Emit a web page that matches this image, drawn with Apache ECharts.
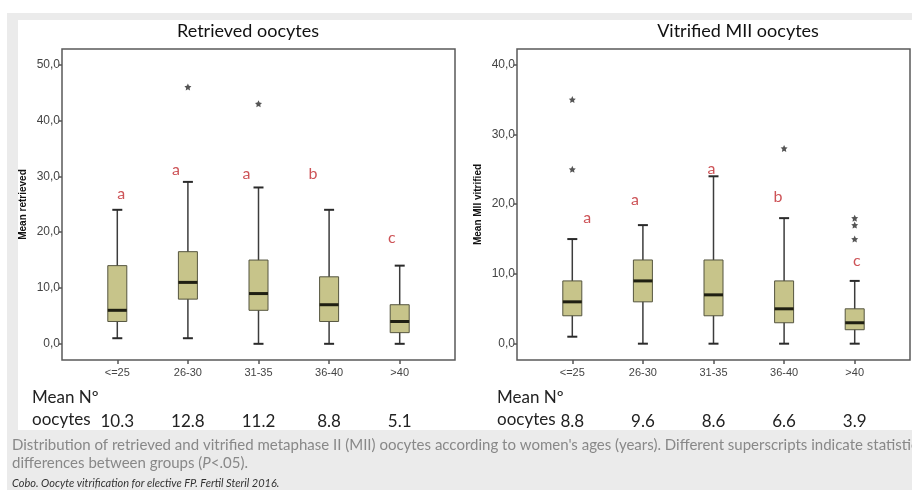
<!DOCTYPE html>
<html>
<head>
<meta charset="utf-8">
<script src="https://cdn.jsdelivr.net/npm/echarts@6/dist/echarts.min.js"></script>
<style>
  html, body { margin: 0; padding: 0; background: #fff; }
  #main { width: 912px; height: 490px; }
</style>
</head>
<body>
<div id="main"></div>
<script>
// age groups (x categories)
var ageGroups = ['<=25', '26-30', '31-35', '36-40', '>40'];

// retrieved oocytes: [min, Q1, median, Q3, max]
var retrievedBoxes = [
  [1, 4, 6, 14, 24],
  [1, 8, 11, 16.5, 29],
  [0, 6, 9, 15, 28],
  [0, 4, 7, 12, 24],
  [0, 2, 4, 7, 14]
];
var retrievedOutliers = [[1, 46], [2, 43]];
var retrievedLetters = ['a', 'a', 'a', 'b', 'c'];
var retrievedLetterY = [26.9, 31.2, 30.5, 30.5, 19.0];
var retrievedMeans = ['10.3', '12.8', '11.2', '8.8', '5.1'];

// vitrified MII oocytes
var vitrifiedBoxes = [
  [1, 4, 6, 9, 15],
  [0, 6, 9, 12, 17],
  [0, 4, 7, 12, 24],
  [0, 3, 5, 9, 18],
  [0, 2, 3, 5, 9]
];
var vitrifiedOutliers = [[0, 35], [0, 25], [3, 28], [4, 18], [4, 17], [4, 15]];
var vitrifiedLetters = ['a', 'a', 'a', 'b', 'c'];
var vitrifiedLetterY = [18.1, 20.6, 25.0, 21.1, 11.9];
var vitrifiedMeans = ['8.8', '9.6', '8.6', '6.6', '3.9'];

var yTicksLeft = [0, 10, 20, 30, 40, 50];
var yTicksRight = [0, 10, 20, 30, 40];

var chart = echarts.init(document.getElementById('main'));

var textFont = 'Lato, "Open Sans", sans-serif';
var axisFont = '"Liberation Sans", Arial, sans-serif';
var starPath = 'path://M0,-10 L2.9,-4 9.5,-3.1 4.7,1.5 5.9,8.1 0,5 -5.9,8.1 -4.7,1.5 -9.5,-3.1 -2.9,-4 Z';

function fmtComma(v) {
  return v.toFixed(1).replace('.', ',');
}

function renderBox(params, api) {
  var x = api.value(0);
  var pMin = api.coord([x, api.value(1)]);
  var pQ1 = api.coord([x, api.value(2)]);
  var pMed = api.coord([x, api.value(3)]);
  var pQ3 = api.coord([x, api.value(4)]);
  var pMax = api.coord([x, api.value(5)]);
  var cx = pMin[0];
  var bw = 19, cw = 10;
  var lineStyle = { stroke: '#3c3c3c', lineWidth: 1.5 };
  return {
    type: 'group',
    children: [
      { type: 'line', shape: { x1: cx, y1: pMax[1], x2: cx, y2: pMin[1] }, style: lineStyle },
      { type: 'line', shape: { x1: cx - cw / 2, y1: pMax[1], x2: cx + cw / 2, y2: pMax[1] }, style: { stroke: '#2a2a2a', lineWidth: 2 } },
      { type: 'line', shape: { x1: cx - cw / 2, y1: pMin[1], x2: cx + cw / 2, y2: pMin[1] }, style: { stroke: '#2a2a2a', lineWidth: 2 } },
      { type: 'rect', shape: { x: cx - bw / 2, y: pQ3[1], width: bw, height: pQ1[1] - pQ3[1] },
        style: { fill: '#c7c48a', stroke: '#55553f', lineWidth: 1 } },
      { type: 'line', shape: { x1: cx - bw / 2, y1: pMed[1], x2: cx + bw / 2, y2: pMed[1] }, style: { stroke: '#1f1f12', lineWidth: 3 } }
    ]
  };
}

function boxData(boxes) {
  return boxes.map(function (b, i) { return [i].concat(b); });
}

function letterData(ys) {
  return ys.map(function (y, i) { return [i, y]; });
}

// panel layout
var panels = [
  { frameLeft: 62, dataLeft: 82, yMin: -2.9, yMax: 52.8, ticks: yTicksLeft, name: 'Mean retrieved',
    letterShift: [4, -12, -12, -16, -8] },
  { frameLeft: 517, dataLeft: 537, yMin: -2.34, yMax: 42.25, ticks: yTicksRight, name: 'Mean MII vitrified',
    letterShift: [15, -8, -2, -6, 2] }
];
var gridTop = 49, gridHeight = 311;

var grids = [], xAxes = [], yAxes = [];
panels.forEach(function (p, k) {
  // data grid (index 2k) and frame grid (index 2k+1)
  grids.push({ left: p.dataLeft, top: gridTop, width: 353, height: gridHeight, containLabel: false });
  grids.push({ left: p.frameLeft, top: gridTop, width: 393, height: gridHeight, show: true,
    borderColor: '#5a5a5a', borderWidth: 1.5, backgroundColor: 'transparent' });

  xAxes.push({
    type: 'category', gridIndex: 2 * k, data: ageGroups, position: 'bottom',
    axisLine: { show: false, onZero: false },
    axisTick: { show: true, alignWithLabel: true, length: 4, lineStyle: { color: '#555', width: 1.5 } },
    axisLabel: { fontSize: 11, color: '#444', fontFamily: axisFont, margin: 7 },
    splitLine: { show: false }
  });
  xAxes.push({
    type: 'category', gridIndex: 2 * k, data: k === 0 ? retrievedMeans : vitrifiedMeans, position: 'bottom',
    offset: 45,
    axisLine: { show: false, onZero: false }, axisTick: { show: false },
    axisLabel: { fontSize: 17, color: '#222', fontFamily: textFont, margin: 8 }
  });
  xAxes.push({ type: 'value', gridIndex: 2 * k + 1, show: false });

  yAxes.push({
    type: 'value', gridIndex: 2 * k, min: p.yMin, max: p.yMax, offset: 20,
    name: p.name, nameLocation: 'middle', nameGap: 34, nameRotate: 90,
    nameTextStyle: { fontSize: 10, fontWeight: 'bold', color: '#111', fontFamily: axisFont },
    axisLine: { show: false, onZero: false },
    axisTick: { show: true, length: 3, customValues: p.ticks, lineStyle: { color: '#555', width: 1.5 } },
    axisLabel: { fontSize: 12, color: '#444', fontFamily: axisFont, margin: 2, customValues: p.ticks,
      formatter: function (v) { return fmtComma(v); } },
    splitLine: { show: false }
  });
  yAxes.push({ type: 'value', gridIndex: 2 * k + 1, show: false });
});

function panelSeries(k, boxes, outliers, letters, letterY) {
  var shift = panels[k].letterShift;
  return [
    {
      type: 'custom', xAxisIndex: 3 * k, yAxisIndex: 2 * k,
      data: boxData(boxes), renderItem: renderBox,
      encode: { x: 0, y: [1, 2, 3, 4, 5] }, silent: true
    },
    {
      type: 'scatter', xAxisIndex: 3 * k, yAxisIndex: 2 * k,
      data: outliers, symbol: starPath, symbolSize: 7,
      itemStyle: { color: '#2a2a2a' }, silent: true
    },
    {
      type: 'scatter', xAxisIndex: 3 * k, yAxisIndex: 2 * k,
      data: letterData(letterY), symbolSize: 1, itemStyle: { color: 'transparent' }, silent: true,
      label: {
        show: true, position: 'inside', fontSize: 16, color: '#c0282d', fontFamily: textFont,
        formatter: function (p) { return letters[p.dataIndex]; }
      },
      labelLayout: function (params) {
        return { dx: shift[params.dataIndex] };
      }
    }
  ];
}

var series = []
  .concat(panelSeries(0, retrievedBoxes, retrievedOutliers, retrievedLetters, retrievedLetterY))
  .concat(panelSeries(1, vitrifiedBoxes, vitrifiedOutliers, vitrifiedLetters, vitrifiedLetterY));

var option = {
  backgroundColor: '#ebebeb',
  animation: false,
  title: [
    { text: 'Retrieved oocytes', left: 243, top: 17, textAlign: 'center',
      textStyle: { fontSize: 18, fontWeight: 'normal', color: '#111', fontFamily: textFont } },
    { text: 'Vitrified MII oocytes', left: 733, top: 17, textAlign: 'center',
      textStyle: { fontSize: 18, fontWeight: 'normal', color: '#111', fontFamily: textFont } }
  ],
  grid: grids,
  xAxis: xAxes,
  yAxis: yAxes,
  graphic: [
    { type: 'rect', z: -10, shape: { x: 0, y: 0, width: 912, height: 13 }, style: { fill: '#fff' } },
    { type: 'rect', z: -10, shape: { x: 0, y: 0, width: 7, height: 490 }, style: { fill: '#fff' } },
    { type: 'rect', z: -10, shape: { x: 18, y: 20, width: 894, height: 410 }, style: { fill: '#fff' } },
    { type: 'text', left: 32, top: 389, style: { text: 'Mean Nº', fontSize: 17, fill: '#222', fontFamily: textFont } },
    { type: 'text', left: 32, top: 411, style: { text: 'oocytes', fontSize: 17, fill: '#222', fontFamily: textFont } },
    { type: 'text', left: 497, top: 389, style: { text: 'Mean Nº', fontSize: 17, fill: '#222', fontFamily: textFont } },
    { type: 'text', left: 497, top: 411, style: { text: 'oocytes', fontSize: 17, fill: '#222', fontFamily: textFont } },
    { type: 'text', x: 12, y: 438, style: {
        text: 'Distribution of retrieved and vitrified metaphase II (MII) oocytes according to women\'s ages (years). Different superscripts indicate statistically significant',
        fontSize: 15, fill: '#888', fontFamily: textFont } },
    { type: 'text', x: 12, y: 456, style: {
        text: 'differences between groups ({i|P}<.05).', fontSize: 15, fill: '#888', fontFamily: textFont,
        rich: { i: { fontStyle: 'italic', fontSize: 15, fill: '#888', fontFamily: textFont } } } },
    { type: 'text', x: 12, y: 478, style: {
        text: 'Cobo. Oocyte vitrification for elective FP. Fertil Steril 2016.',
        fontSize: 11, fontStyle: 'italic', fill: '#333', fontFamily: textFont } }
  ],
  series: series
};

chart.setOption(option);
</script>
</body>
</html>
